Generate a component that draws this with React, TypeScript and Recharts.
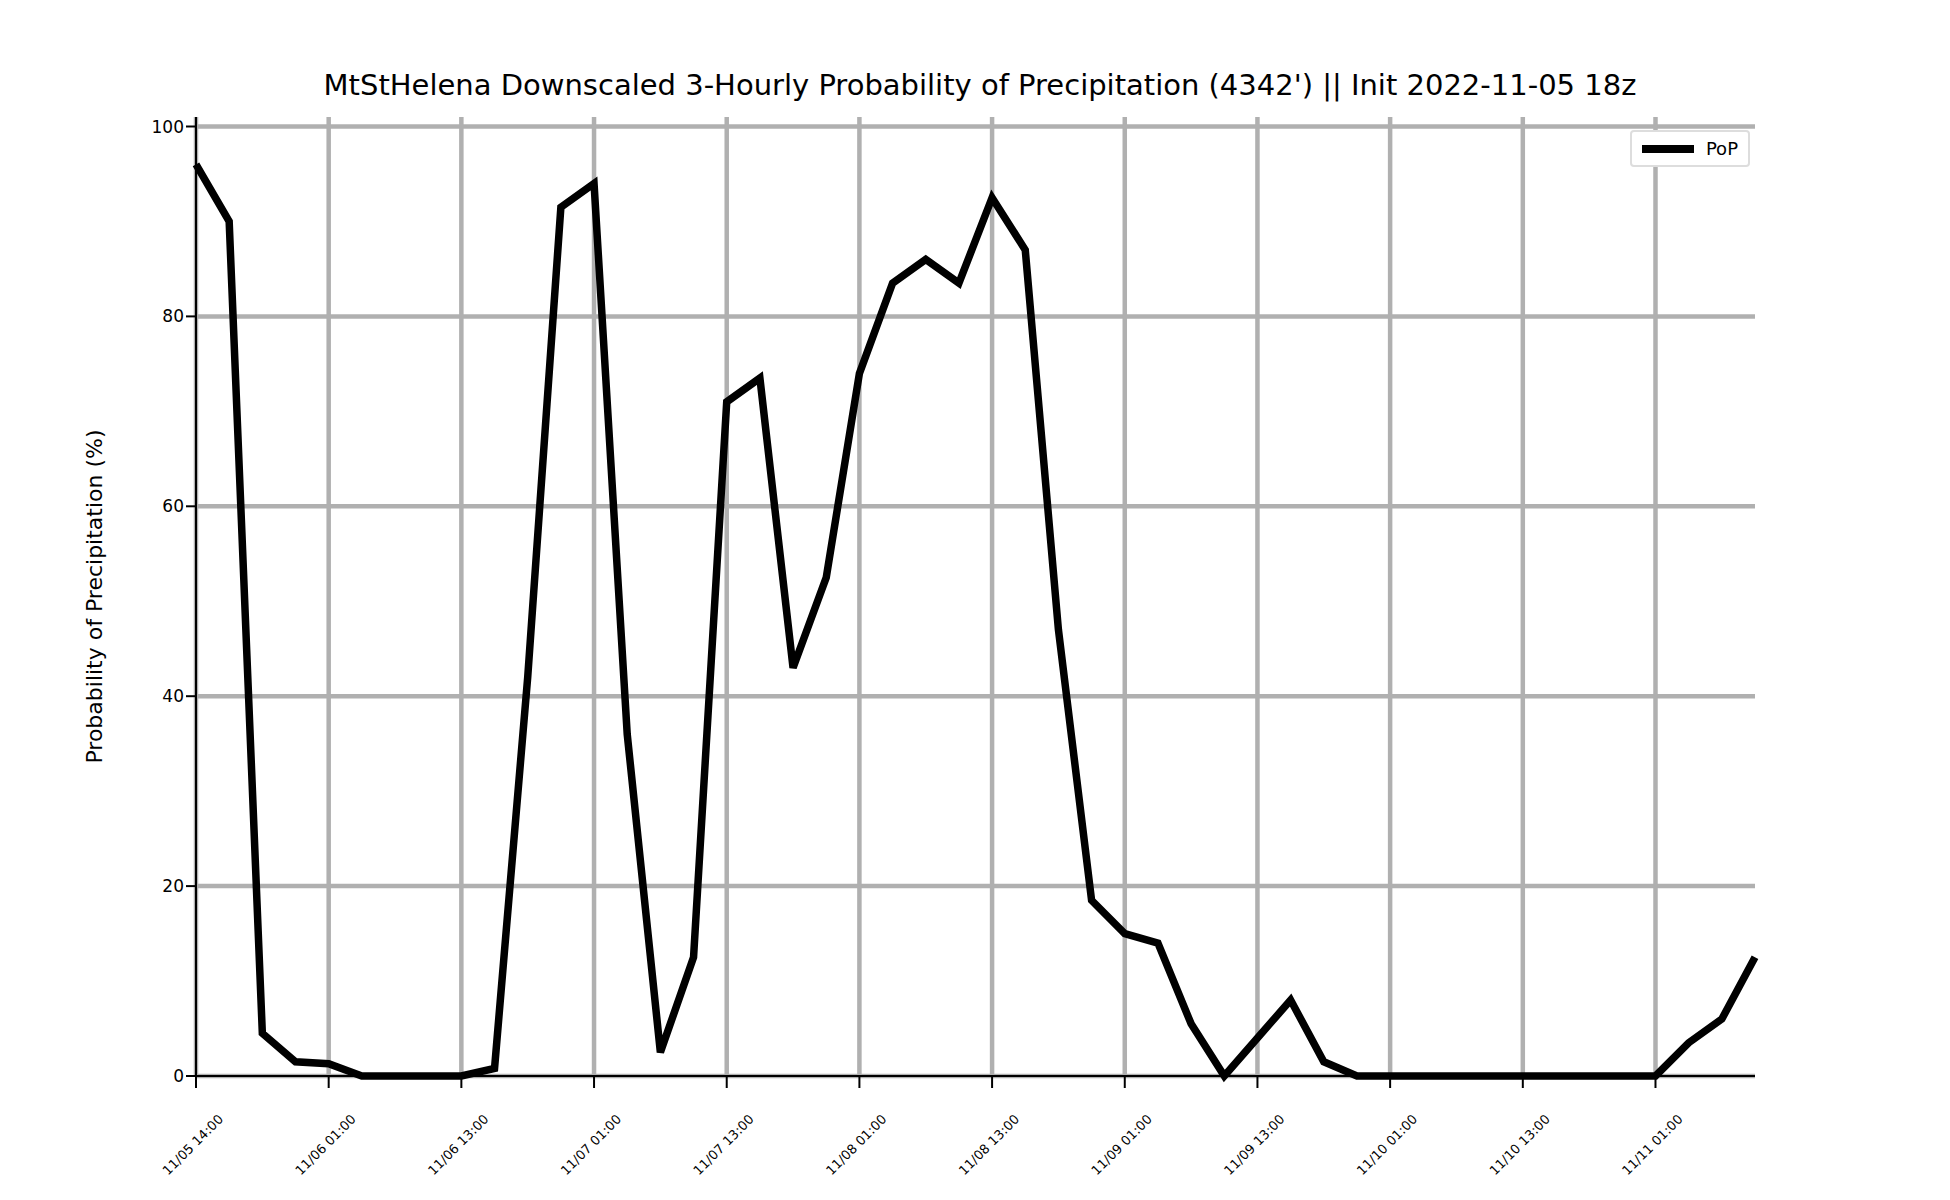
import { CartesianGrid, Legend, Line, LineChart, XAxis, YAxis } from "recharts";

const pop = [
  96, 90, 4.5, 1.5, 1.3, 0, 0, 0, 0, 0.8, 42, 91.5, 94, 36, 2.5, 12.5, 71, 73.5, 43,
  52.5, 74, 83.5, 86, 83.5, 92.5, 87, 47, 18.5, 15, 14, 5.5, 0, 4, 8, 1.5, 0, 0, 0, 0,
  0, 0, 0, 0, 0, 0, 3.5, 6, 12.5,
];
const tickIdx = [0, 4, 8, 12, 16, 20, 24, 28, 32, 36, 40, 44];
const tickLabels = [
  "11/05 14:00", "11/06 01:00", "11/06 13:00", "11/07 01:00", "11/07 13:00", "11/08 01:00",
  "11/08 13:00", "11/09 01:00", "11/09 13:00", "11/10 01:00", "11/10 13:00", "11/11 01:00",
];
const yTicks = [0, 20, 40, 60, 80, 100];

const data = pop.map((v, i) => ({ i, pop: v }));
const font = "DejaVu Sans";

function XTick({ x, y, payload }: any) {
  const k = tickIdx.indexOf(payload.value);
  const ty = y + 30;
  return (
    <text x={x + 28} y={ty} transform={`rotate(-45 ${x + 28} ${ty})`} textAnchor="end" fontSize={13} fontFamily={font} fill="#000">
      {tickLabels[k]}
    </text>
  );
}

function LegendBox() {
  return (
    <div style={{ border: "2px solid #ddd", borderRadius: 4, background: "#fff", padding: "6px 10px", display: "flex", alignItems: "center", fontFamily: font, fontSize: 18 }}>
      <span style={{ display: "inline-block", width: 52, height: 8, background: "#000", marginRight: 12 }} />
      PoP
    </div>
  );
}

export default function App() {
  return (
    <div style={{ position: "absolute", left: 0, top: 0, width: 1950, height: 1200, background: "#fff" }}>
      <div style={{ position: "absolute", top: 68, width: 1960, textAlign: "center", fontFamily: font, fontSize: 29 }}>
        MtStHelena Downscaled 3-Hourly Probability of Precipitation (4342') || Init 2022-11-05 18z
      </div>
      <LineChart width={1950} height={1200} data={data} margin={{ top: 117, right: 195, bottom: 15, left: 126 }}>
        <CartesianGrid stroke="#b0b0b0" strokeWidth={4.5} horizontalValues={yTicks} verticalValues={tickIdx} />
        <XAxis dataKey="i" type="number" domain={[0, 47]} ticks={tickIdx} interval={0} tick={<XTick />} height={72} stroke="#000" strokeWidth={2} tickSize={12} />
        <XAxis xAxisId="top" orientation="top" dataKey="i" type="number" domain={[0, 47]} tick={false} tickLine={false} height={0} stroke="#000" strokeWidth={2} />
        <YAxis domain={[0, 101]} ticks={yTicks} interval={0} width={70} stroke="#000" strokeWidth={2} tickSize={10} tick={{ fontSize: 17, fontFamily: font, fill: "#000" }}
          label={{ value: "Probability of Precipitation (%)", angle: -90, position: "insideLeft", offset: -32, style: { textAnchor: "middle", fontSize: 22, fontFamily: font, fill: "#000" } }} />
        <YAxis yAxisId="r" orientation="right" domain={[0, 101]} tick={false} tickLine={false} width={0} stroke="#000" strokeWidth={2} />
        <Legend content={<LegendBox />} wrapperStyle={{ position: "absolute", top: 130, right: 200, left: "auto", width: "auto" }} />
        <Line dataKey="pop" name="PoP" stroke="#000" strokeWidth={7.5} dot={false} isAnimationActive={false} strokeLinejoin="miter" />
      </LineChart>
    </div>
  );
}
